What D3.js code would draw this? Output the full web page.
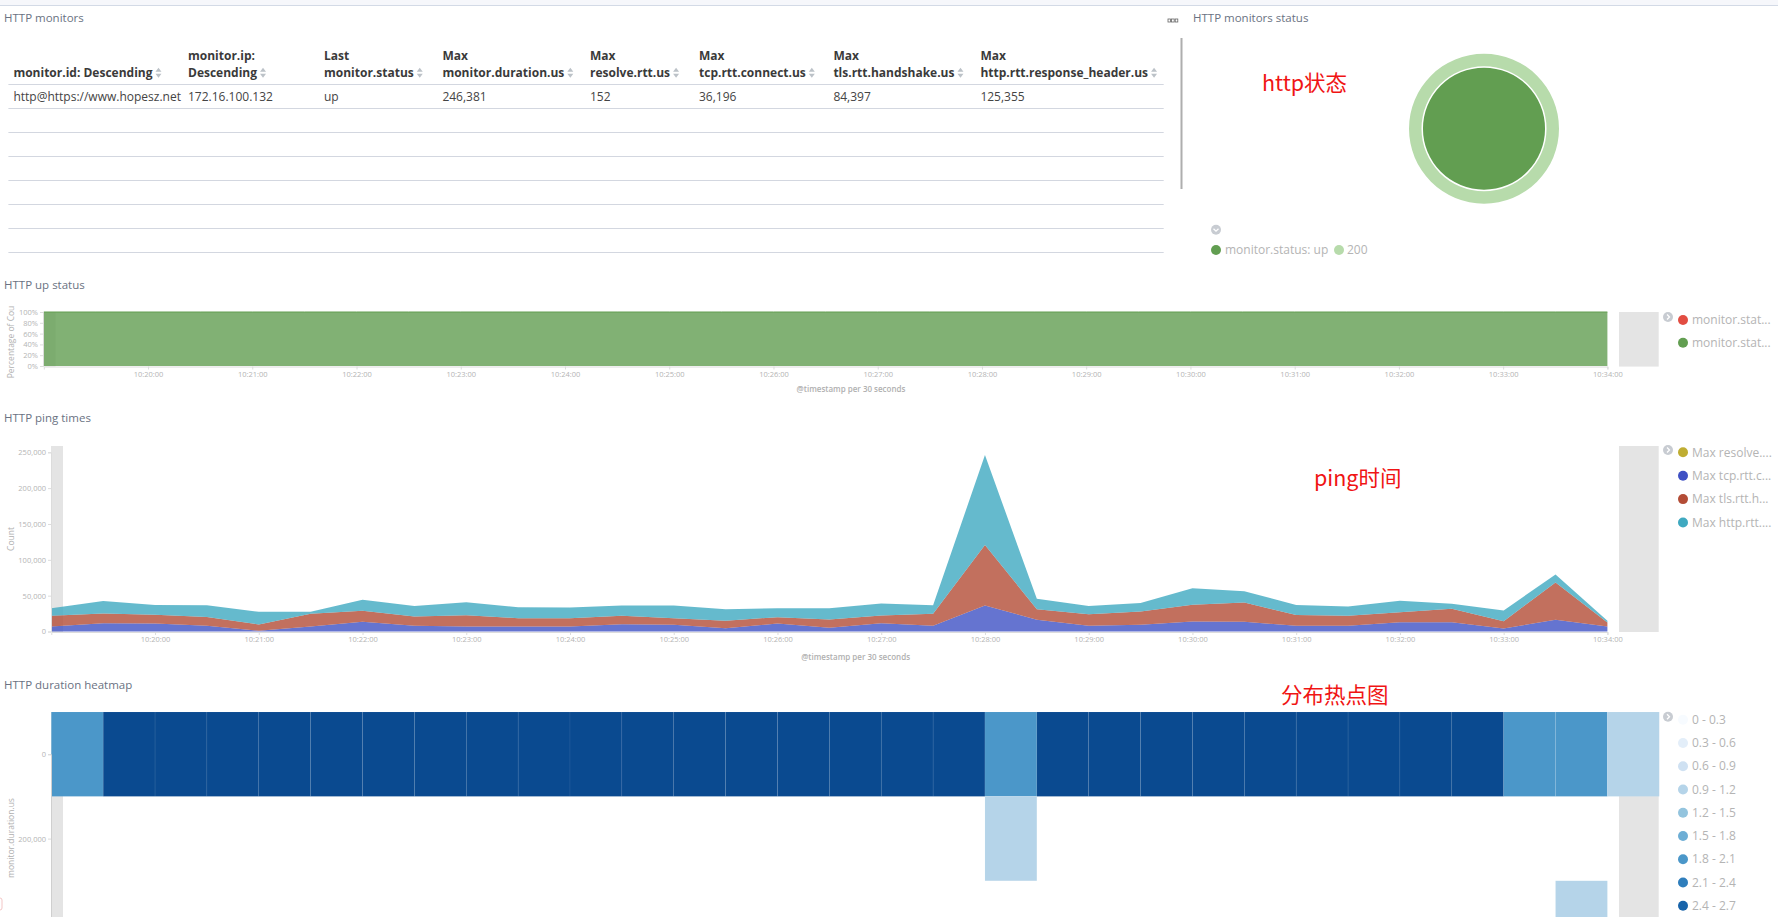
<!DOCTYPE html>
<html>
<head>
<meta charset="utf-8">
<script src="https://cdn.jsdelivr.net/npm/d3@7"></script>
<style>
  html, body { margin: 0; padding: 0; background: #fff; overflow: hidden; }
  text { font-family: "Open Sans", sans-serif; }
  .title { font-size: 11.5px; fill: #6a7282; }
  .tick-label { font-size: 7.5px; fill: #b4b4b4; }
  .axis-title { font-size: 8.5px; fill: #b0b0b0; }
  .legend-label { font-size: 12px; fill: #b4b4b4; }
  .note { font-family: "Noto Sans CJK SC", sans-serif; font-size: 21.5px; fill: #f01414; }
</style>
</head>
<body>
<svg id="chart" width="1778" height="917"></svg>
<script>
// table
const headerLines = [
  ["", "monitor.id: Descending"],
  ["monitor.ip:", "Descending"],
  ["Last", "monitor.status"],
  ["Max", "monitor.duration.us"],
  ["Max", "resolve.rtt.us"],
  ["Max", "tcp.rtt.connect.us"],
  ["Max", "tls.rtt.handshake.us"],
  ["Max", "http.rtt.response_header.us"]
];
const rowValues = ["http@https://www.hopesz.net", "172.16.100.132", "up", "246,381", "152", "36,196", "84,397", "125,355"];
const columnX = [13.4, 188, 324, 442.4, 590, 699, 833.4, 980.4];
const emptyRows = [1, 2, 3, 4, 5, 6];

// pie
const statusInner = [{ name: "monitor.status: up", value: 1 }];
const statusOuter = [{ name: "200", value: 1 }];

// time buckets, 30 seconds each
const timestamps = [
  "10:19:00", "10:19:30", "10:20:00", "10:20:30", "10:21:00", "10:21:30", "10:22:00", "10:22:30",
  "10:23:00", "10:23:30", "10:24:00", "10:24:30", "10:25:00", "10:25:30", "10:26:00", "10:26:30",
  "10:27:00", "10:27:30", "10:28:00", "10:28:30", "10:29:00", "10:29:30", "10:30:00", "10:30:30",
  "10:31:00", "10:31:30", "10:32:00", "10:32:30", "10:33:00", "10:33:30", "10:34:00"
];
const timeTicks = [
  "10:20:00", "10:21:00", "10:22:00", "10:23:00", "10:24:00", "10:25:00", "10:26:00", "10:27:00",
  "10:28:00", "10:29:00", "10:30:00", "10:31:00", "10:32:00", "10:33:00", "10:34:00"
];

// up status
const upPercent = [100, 100, 100, 100, 100, 100, 100, 100, 100, 100, 100, 100, 100, 100, 100, 100,
  100, 100, 100, 100, 100, 100, 100, 100, 100, 100, 100, 100, 100, 100, 100];
const percentTicks = [0, 20, 40, 60, 80, 100];
const upLegend = [["monitor.stat...", "#e24d42"], ["monitor.stat...", "#629e51"]];

// ping times
const resolveRtt = [110, 100, 120, 90, 100, 110, 130, 100, 90, 100, 110, 120, 100, 90, 110, 100,
  120, 100, 152, 130, 100, 90, 110, 100, 100, 90, 110, 120, 100, 110, 90];
const tcpRtt = [7000, 11500, 11000, 7800, 900, 6900, 13400, 7800, 6900, 6900, 6900, 10100, 9200, 4500, 11000, 5000,
  11500, 7800, 36196, 16200, 7800, 9200, 13900, 13400, 7800, 7800, 12900, 12900, 4100, 16200, 6900];
const tlsRtt = [14800, 13400, 12100, 12500, 8800, 17600, 15300, 13000, 15700, 11600, 11600, 11600, 9300, 10300, 8900, 11600,
  10700, 16700, 84397, 14800, 16200, 18600, 23200, 27000, 15000, 14000, 14000, 18600, 10200, 52100, 5600];
const httpRtt = [10700, 17700, 13800, 16300, 17700, 2800, 15300, 14800, 18200, 15300, 14800, 14400, 17600, 16200, 12500, 15800,
  16700, 12100, 125355, 14400, 11600, 12000, 23300, 15800, 14000, 13000, 15800, 7000, 14900, 11200, 2300];
const pingTicks = [0, 50000, 100000, 150000, 200000, 250000];
const pingSeries = [
  { key: "resolve", label: "Max resolve....", color: "#bfad32", values: resolveRtt },
  { key: "tcp", label: "Max tcp.rtt.c...", color: "#3f51c4", values: tcpRtt },
  { key: "tls", label: "Max tls.rtt.h...", color: "#b34c36", values: tlsRtt },
  { key: "http", label: "Max http.rtt....", color: "#3fa9c0", values: httpRtt }
];

// heatmap, counts per bucket for each duration row
const durationRows = [0, 200000, 400000];
const countsRow0 = [2, 3, 3, 3, 3, 3, 3, 3, 3, 3, 3, 3, 3, 3, 3, 3, 3, 3, 2, 3, 3, 3, 3, 3, 3, 3, 3, 3, 2, 2, 1];
const countsRow1 = [0, 0, 0, 0, 0, 0, 0, 0, 0, 0, 0, 0, 0, 0, 0, 0, 0, 0, 1, 0, 0, 0, 0, 0, 0, 0, 0, 0, 0, 0, 0];
const countsRow2 = [0, 0, 0, 0, 0, 0, 0, 0, 0, 0, 0, 0, 0, 0, 0, 0, 0, 0, 0, 0, 0, 0, 0, 0, 0, 0, 0, 0, 0, 1, 0];
const heatLabels = ["0 - 0.3", "0.3 - 0.6", "0.6 - 0.9", "0.9 - 1.2", "1.2 - 1.5", "1.5 - 1.8", "1.8 - 2.1", "2.1 - 2.4", "2.4 - 2.7"];
const heatColors = ["#f7fbff", "#e3eef9", "#cfe1f2", "#b5d4e9", "#93c4de", "#6daed5", "#4b97c9", "#2f7ebc", "#1864aa", "#0a4a90"];

const parseTime = d3.timeParse("%H:%M:%S");
const formatTime = d3.timeFormat("%H:%M:%S");
const times = timestamps.map(parseTime);
const tickTimes = timeTicks.map(parseTime);
const svg = d3.select("#chart");

svg.append("rect").attr("width", 1778).attr("height", 5).attr("fill", "#f6f7fb");
svg.append("line").attr("x1", 0).attr("x2", 1778).attr("y1", 5.5).attr("y2", 5.5).attr("stroke", "#d3dae6");

drawTitle("HTTP monitors", 4, 18);
drawTitle("HTTP monitors status", 1193, 18);
drawTitle("HTTP up status", 4, 285);
drawTitle("HTTP ping times", 4, 417.5);
drawTitle("HTTP duration heatmap", 4, 685);

drawNote("http状态", 1262, 83);
drawNote("ping时间", 1314, 478);
drawNote("分布热点图", 1281, 695);

drawTable();
drawStatusPie();
drawUpChart();
drawPingChart();
drawHeatmap();

// stray mark at the bottom left corner of the screenshot
svg.append("rect").attr("x", -4).attr("y", 898).attr("width", 6).attr("height", 12).attr("rx", 2)
  .attr("fill", "none").attr("stroke", "#f3c6c6");

function drawTitle(label, x, y) {
  svg.append("text").attr("class", "title").attr("x", x).attr("y", y).attr("dy", "0.35em").text(label);
}

function drawNote(label, x, y) {
  svg.append("text").attr("class", "note").attr("x", x).attr("y", y).attr("dy", "0.35em").text(label);
}

function drawTable() {
  const g = svg.append("g");
  const left = 8.4;
  const right = 1163.7;
  const rowY = d3.scaleLinear().domain([0, 1]).range([108.5, 132.5]);

  g.append("line").attr("x1", left).attr("x2", right).attr("y1", 84.5).attr("y2", 84.5)
    .attr("stroke", "#d3d7e0").attr("stroke-width", 1);
  g.selectAll(".row-line").data([0].concat(emptyRows)).join("line")
    .attr("class", "row-line")
    .attr("x1", left).attr("x2", right)
    .attr("y1", d => rowY(d)).attr("y2", d => rowY(d))
    .attr("stroke", "#d3d7e0");

  headerLines.forEach((lines, i) => {
    lines.forEach((line, j) => {
      const t = g.append("text").attr("x", columnX[i]).attr("y", 60 + j * 16.7)
        .attr("font-size", 12).attr("font-weight", 700).attr("fill", "#3a3a3a").text(line);
      if (j === 1) {
        const end = columnX[i] + t.node().getComputedTextLength() + 3;
        const y = 56 + j * 16.7;
        g.append("path").attr("d", `M${end},${y - 1}l3,-4l3,4z M${end},${y + 1}l3,4l3,-4z`).attr("fill", "#bcc2c8");
      }
    });
  });

  g.selectAll(".cell").data(rowValues).join("text")
    .attr("class", "cell")
    .attr("x", (d, i) => columnX[i])
    .attr("y", 96.7).attr("dy", "0.35em")
    .attr("font-size", 12).attr("fill", "#444").text(d => d);

  // panel menu dots and the resize bar
  g.selectAll(".menu-dot").data([0, 1, 2]).join("rect")
    .attr("class", "menu-dot")
    .attr("x", d => 1168 + d * 3.6).attr("y", 19).attr("width", 2.6).attr("height", 3)
    .attr("fill", "none").attr("stroke", "#666").attr("stroke-width", 0.8);
  g.append("rect").attr("x", 1180.5).attr("y", 38).attr("width", 2).attr("height", 151).attr("fill", "#aeaeae");
}

function drawStatusPie() {
  const g = svg.append("g").attr("transform", "translate(1484,128.7)");
  const pie = d3.pie().value(d => d.value);
  const innerArc = d3.arc().innerRadius(0).outerRadius(61);
  const outerArc = d3.arc().innerRadius(62.5).outerRadius(75);
  g.selectAll(".inner").data(pie(statusInner)).join("path").attr("class", "inner").attr("d", innerArc).attr("fill", "#629e51");
  g.selectAll(".outer").data(pie(statusOuter)).join("path").attr("class", "outer").attr("d", outerArc).attr("fill", "#b7dbab");

  drawToggle(1216, 229.7, "down");
  drawLegendItem(1216, 250, "#629e51", statusInner[0].name, 1225);
  drawLegendItem(1339, 250, "#b7dbab", statusOuter[0].name, 1347);
}

function drawToggle(x, y, dir) {
  svg.append("circle").attr("cx", x).attr("cy", y).attr("r", 5).attr("fill", "#c8ccd2");
  const d = dir === "down" ? `M${x - 2.5},${y - 1}l2.5,2.5l2.5,-2.5` : `M${x - 1},${y - 2.5}l2.5,2.5l-2.5,2.5`;
  svg.append("path").attr("d", d).attr("fill", "none").attr("stroke", "#fff").attr("stroke-width", 1.3);
}

function drawLegendItem(cx, cy, color, label, textX) {
  svg.append("circle").attr("cx", cx).attr("cy", cy).attr("r", 5).attr("fill", color);
  svg.append("text").attr("class", "legend-label").attr("x", textX).attr("y", cy).attr("dy", "0.35em").text(label);
}

function drawBands(top, bottom, leftStart, leftEnd) {
  const bands = [[leftStart, leftEnd], [1619, 1658.7]];
  svg.append("g").selectAll("rect").data(bands).join("rect")
    .attr("x", d => d[0]).attr("width", d => d[1] - d[0])
    .attr("y", top).attr("height", bottom - top)
    .attr("fill", "#e4e4e4");
}

function drawTimeAxis(x, y) {
  const axis = d3.axisBottom(x).tickValues(tickTimes).tickFormat(formatTime).tickSize(3).tickPadding(2);
  const g = svg.append("g").attr("transform", `translate(0,${y})`).call(axis);
  styleAxis(g);
}

function styleAxis(g) {
  g.selectAll("path, line").attr("stroke", "#dcdcdc");
  g.selectAll("text").attr("class", "tick-label").attr("fill", null);
}

function drawAxisTitle(label, x, y, rotate) {
  svg.append("text").attr("class", "axis-title")
    .attr("text-anchor", "middle").attr("dy", "0.35em")
    .attr("transform", `translate(${x},${y})${rotate ? " rotate(-90)" : ""}`)
    .text(label);
}

function drawUpChart() {
  const x = d3.scaleTime().domain([times[0], times[times.length - 1]]).range([43.8, 1607.4]);
  const y = d3.scaleLinear().domain([0, 100]).range([366, 312]);
  drawBands(312, 366.6, 43, 55.5);

  const area = d3.area().x((d, i) => x(times[i])).y0(y(0)).y1(d => y(d));
  const top = d3.line().x((d, i) => x(times[i])).y(d => y(d));
  svg.append("path").datum(upPercent).attr("d", area).attr("fill", "#629e51").attr("fill-opacity", 0.8);
  svg.append("path").datum(upPercent).attr("d", top).attr("fill", "none").attr("stroke", "#629e51").attr("stroke-width", 1);

  const yAxis = svg.append("g").attr("transform", "translate(43,0)")
    .call(d3.axisLeft(y).tickValues(percentTicks).tickFormat(d => d + "%").tickSize(3).tickPadding(2));
  styleAxis(yAxis);
  drawTimeAxis(x, 366.5);

  drawAxisTitle("Percentage of Cou", 11.5, 342, true);
  svg.append("text").attr("class", "axis-title").attr("text-anchor", "middle").attr("font-weight", 600)
    .attr("font-size", 8).attr("style", "font-size:8px")
    .attr("x", 851).attr("y", 389).attr("dy", "0.35em").text("@timestamp per 30 seconds");

  drawToggle(1668, 317, "right");
  upLegend.forEach((d, i) => drawLegendItem(1683, 320 + i * 22.7, d[1], d[0], 1692));
}

function drawPingChart() {
  const x = d3.scaleTime().domain([times[0], times[times.length - 1]]).range([51.3, 1607.4]);
  const y = d3.scaleLinear().domain([0, 250000]).range([631.5, 452.3]);
  drawBands(446, 632, 51, 63);

  const rows = times.map((t, i) => {
    const row = { time: t };
    pingSeries.forEach(s => { row[s.key] = s.values[i]; });
    return row;
  });
  const stack = d3.stack().keys(pingSeries.map(s => s.key));
  const area = d3.area().x(d => x(d.data.time)).y0(d => y(d[0])).y1(d => y(d[1]));
  svg.append("g").selectAll("path").data(stack(rows)).join("path")
    .attr("d", area)
    .attr("fill", (d, i) => pingSeries[i].color)
    .attr("fill-opacity", 0.8);

  const yAxis = svg.append("g").attr("transform", "translate(51,0)")
    .call(d3.axisLeft(y).tickValues(pingTicks).tickFormat(d3.format(",")).tickSize(3).tickPadding(2));
  styleAxis(yAxis);
  drawTimeAxis(x, 632);

  drawAxisTitle("Count", 11.5, 539, true);
  svg.append("text").attr("class", "axis-title").attr("text-anchor", "middle").attr("font-weight", 600)
    .attr("style", "font-size:8px")
    .attr("x", 855.6).attr("y", 656.7).attr("dy", "0.35em").text("@timestamp per 30 seconds");

  drawToggle(1668, 450, "right");
  pingSeries.forEach((s, i) => drawLegendItem(1683, 452.3 + i * 23.4, s.color, s.label, 1692));
}

function drawHeatmap() {
  const x = d3.scaleTime().domain([times[0], times[times.length - 1]]).range([51.3, 1607.4]);
  const cellWidth = x(times[1]) - x(times[0]);
  const y = d3.scaleBand().domain(durationRows).range([712, 965.2]);
  const color = d3.scaleQuantize().domain([0, 3]).range(heatColors);
  drawBands(712, 917, 51, 63);

  const grid = [countsRow0, countsRow1, countsRow2];
  durationRows.forEach((row, r) => {
    const cells = grid[r].map((count, i) => ({ time: times[i], count: count })).filter(d => d.count > 0);
    svg.append("g").selectAll("rect").data(cells).join("rect")
      .attr("x", d => x(d.time))
      .attr("y", y(row))
      .attr("width", cellWidth)
      .attr("height", y.bandwidth())
      .attr("fill", d => color(d.count))
      .attr("stroke", "#fff").attr("stroke-opacity", 0.1).attr("stroke-width", 0.6);
  });

  const axisScale = d3.scalePoint().domain(durationRows).range([y(0) + y.bandwidth() / 2, y(400000) + y.bandwidth() / 2]);
  const yAxis = svg.append("g").attr("transform", "translate(51,0)")
    .call(d3.axisLeft(axisScale).tickValues(durationRows.slice(0, 2)).tickFormat(d3.format(",")).tickSize(3).tickPadding(2));
  styleAxis(yAxis);
  // only the part of the axis above the fold
  yAxis.select(".domain").attr("stroke", "#cfcfcf");

  drawAxisTitle("monitor.duration.us", 11.5, 838, true);

  drawToggle(1668, 716.7, "right");
  heatLabels.forEach((label, i) => drawLegendItem(1683, 719.7 + i * 23.25, heatColors[i], label, 1692));
}
</script>
</body>
</html>
